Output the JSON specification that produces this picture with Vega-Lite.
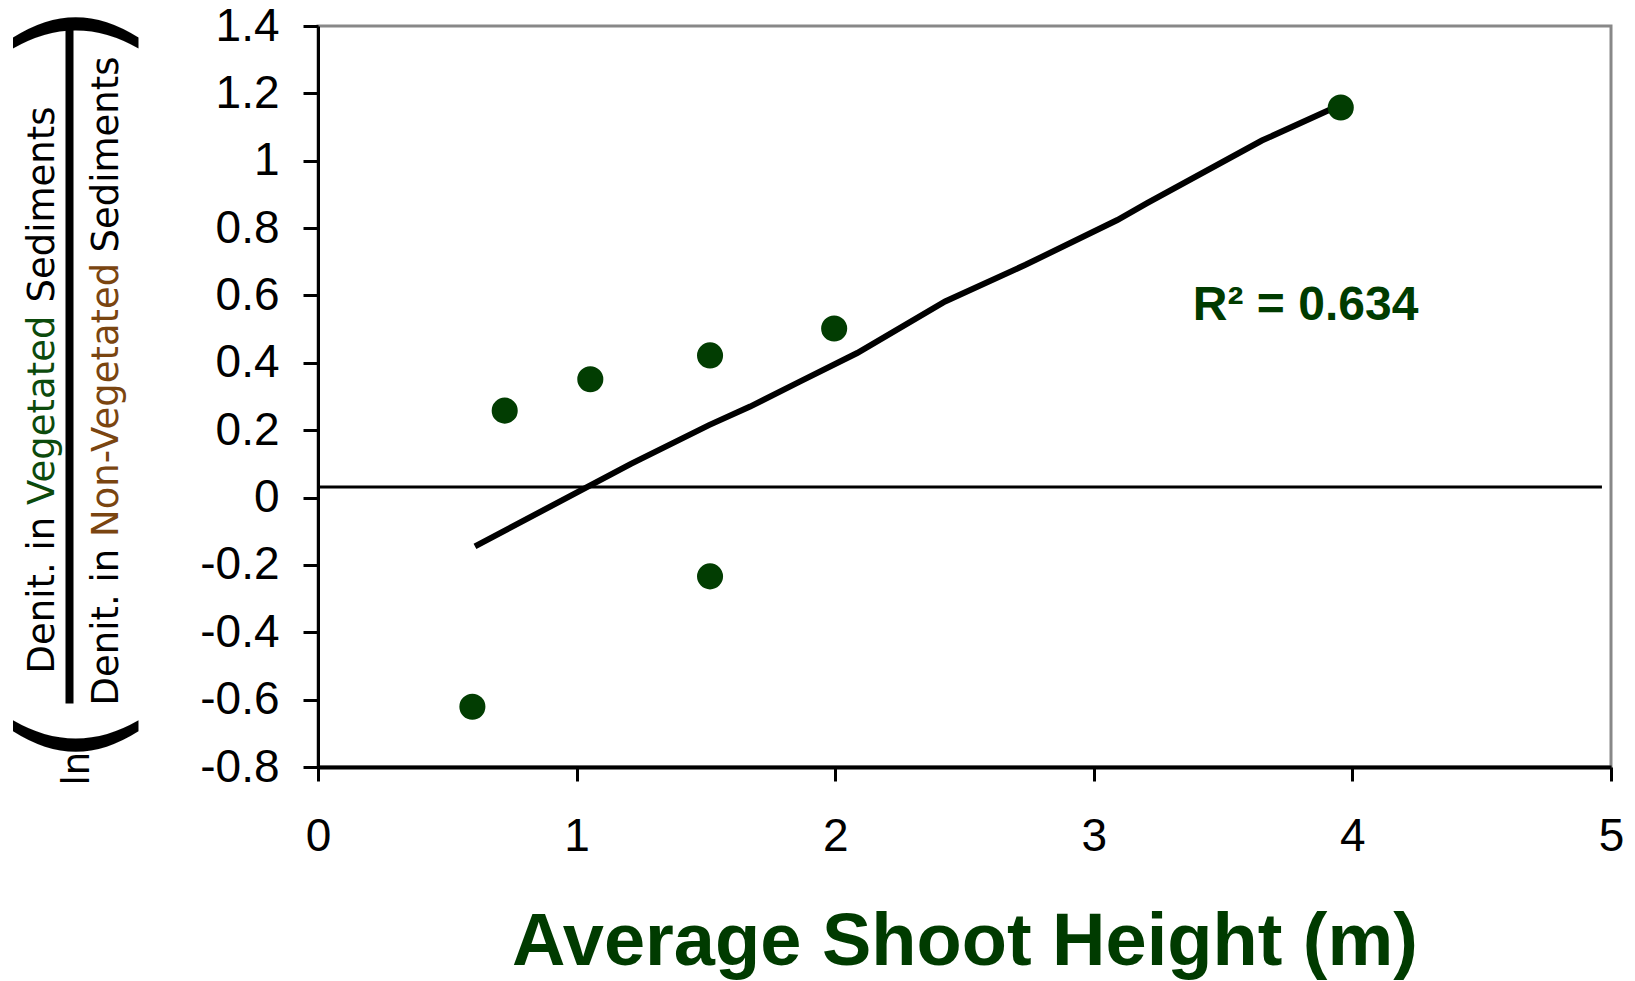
{
  "$schema": "https://vega.github.io/schema/vega-lite/v6.json",
  "width": 1293,
  "height": 741,
  "autosize": {"type": "none"},
  "padding": {"left": 318, "top": 26, "right": 24, "bottom": 214},
  "background": "white",
  "config": {
    "view": {"stroke": "#888888", "strokeWidth": 3},
    "axis": {
      "grid": false,
      "domainColor": "black",
      "domainWidth": 3,
      "tickColor": "black",
      "tickWidth": 3,
      "labelFont": "Liberation Sans",
      "labelFontSize": 46,
      "labelColor": "black",
      "labelFlush": false,
      "labelOverlap": false,
      "titleFont": "DejaVu Sans",
      "titleFontWeight": "normal",
      "titleFontSize": 37,
      "titleColor": "black"
    },
    "axisX": {
      "tickSize": 14,
      "labelPadding": 33,
      "domainWidth": 4,
      "titleFont": "Liberation Sans",
      "titleFontWeight": "bold",
      "titleFontSize": 74,
      "titleColor": "#003b00",
      "titleBaseline": "alphabetic",
      "titleY": 197
    }
  },
  "datasets": {
    "points": [
      {"x": 0.597, "y": -0.621},
      {"x": 0.722, "y": 0.258},
      {"x": 1.053, "y": 0.351},
      {"x": 1.516, "y": 0.422},
      {"x": 1.516, "y": -0.234},
      {"x": 1.996, "y": 0.502},
      {"x": 3.955, "y": 1.158}
    ],
    "trend": [
      {"x": 0.607, "y": -0.145},
      {"x": 1.21, "y": 0.1},
      {"x": 1.512, "y": 0.215},
      {"x": 1.671, "y": 0.27},
      {"x": 1.863, "y": 0.344},
      {"x": 2.085, "y": 0.429},
      {"x": 2.425, "y": 0.582},
      {"x": 2.736, "y": 0.691},
      {"x": 3.091, "y": 0.824},
      {"x": 3.206, "y": 0.874},
      {"x": 3.65, "y": 1.06},
      {"x": 3.955, "y": 1.166}
    ],
    "ref": [{"x": 0, "x2": 4.965, "y": 0.031}],
    "label": [{"x": 3.819, "y": 0.527, "text": "R² = 0.634"}]
  },
  "resolve": {"scale": {"y": "shared"}, "axis": {"y": "independent"}},
  "layer": [
    {
      "data": {"name": "ref"},
      "mark": {"type": "rule", "color": "black", "strokeWidth": 3},
      "encoding": {
        "x": {"field": "x", "type": "quantitative", "scale": {"domain": [0, 5], "nice": false}, "axis": {"title": "Average Shoot Height (m)", "values": [0, 1, 2, 3, 4, 5], "labelExpr": "'' + datum.value"}},
        "x2": {"field": "x2"},
        "y": {"field": "y", "type": "quantitative", "scale": {"domain": [-0.8, 1.4], "nice": false, "zero": false},
              "axis": {"orient": "left", "title": "Denit. in", "titleX": -265, "titleY": 647, "titleAngle": 270, "titleAlign": "left", "titleBaseline": "alphabetic", "labels": false, "ticks": false, "domain": false}}
      }
    },
    {
      "data": {"name": "trend"},
      "mark": {"type": "line", "color": "black", "strokeWidth": 6},
      "encoding": {
        "x": {"field": "x", "type": "quantitative", "scale": {"domain": [0, 5], "nice": false}, "axis": {"title": "Average Shoot Height (m)", "values": [0, 1, 2, 3, 4, 5], "labelExpr": "'' + datum.value"}},
        "y": {"field": "y", "type": "quantitative", "scale": {"domain": [-0.8, 1.4], "nice": false, "zero": false},
              "axis": {"orient": "left", "title": "Vegetated", "titleColor": "#0c4a0c", "titleX": -265, "titleY": 478.5, "titleAngle": 270, "titleAlign": "left", "titleBaseline": "alphabetic", "labels": false, "ticks": false, "domain": false}}
      }
    },
    {
      "data": {"name": "points"},
      "mark": {"type": "point", "shape": "circle", "filled": true, "color": "#023d02", "opacity": 1, "size": 680},
      "encoding": {
        "x": {"field": "x", "type": "quantitative", "scale": {"domain": [0, 5], "nice": false}, "axis": {"title": "Average Shoot Height (m)", "values": [0, 1, 2, 3, 4, 5], "labelExpr": "'' + datum.value"}},
        "y": {"field": "y", "type": "quantitative", "scale": {"domain": [-0.8, 1.4], "nice": false, "zero": false},
              "axis": {"orient": "left", "title": null, "values": [-0.8, -0.6, -0.4, -0.2, 0, 0.2, 0.4, 0.6, 0.8, 1, 1.2, 1.4], "labelExpr": "'' + datum.value", "tickSize": 15, "labelPadding": 24}}
      }
    },
    {
      "data": {"name": "label"},
      "mark": {"type": "text", "font": "Liberation Sans", "fontWeight": "bold", "fontSize": 48, "color": "#003b00", "align": "center", "baseline": "alphabetic"},
      "encoding": {
        "x": {"field": "x", "type": "quantitative", "scale": {"domain": [0, 5], "nice": false}, "axis": {"title": "Average Shoot Height (m)", "values": [0, 1, 2, 3, 4, 5], "labelExpr": "'' + datum.value"}},
        "y": {"field": "y", "type": "quantitative", "scale": {"domain": [-0.8, 1.4], "nice": false, "zero": false},
              "axis": {"orient": "left", "title": "Sediments", "titleX": -265, "titleY": 276, "titleAngle": 270, "titleAlign": "left", "titleBaseline": "alphabetic", "labels": false, "ticks": false, "domain": false}},
        "text": {"field": "text"}
      }
    },
    {
      "data": {"name": "points"},
      "mark": {"type": "point", "opacity": 0},
      "encoding": {
        "y": {"field": "y", "type": "quantitative", "scale": {"domain": [-0.8, 1.4], "nice": false, "zero": false},
              "axis": {"orient": "left", "title": "Denit. in", "titleX": -201, "titleY": 679, "titleAngle": 270, "titleAlign": "left", "titleBaseline": "alphabetic", "labels": false, "ticks": false, "domain": false}}
      }
    },
    {
      "data": {"name": "points"},
      "mark": {"type": "point", "opacity": 0},
      "encoding": {
        "y": {"field": "y", "type": "quantitative", "scale": {"domain": [-0.8, 1.4], "nice": false, "zero": false},
              "axis": {"orient": "left", "title": "Non-Vegetated", "titleColor": "#7a4510", "titleX": -201, "titleY": 510.5, "titleAngle": 270, "titleAlign": "left", "titleBaseline": "alphabetic", "labels": false, "ticks": false, "domain": false}}
      }
    },
    {
      "data": {"name": "points"},
      "mark": {"type": "point", "opacity": 0},
      "encoding": {
        "y": {"field": "y", "type": "quantitative", "scale": {"domain": [-0.8, 1.4], "nice": false, "zero": false},
              "axis": {"orient": "left", "title": "Sediments", "titleX": -201, "titleY": 226, "titleAngle": 270, "titleAlign": "left", "titleBaseline": "alphabetic", "labels": false, "ticks": false, "domain": false}}
      }
    },
    {
      "data": {"name": "points"},
      "mark": {"type": "point", "opacity": 0},
      "encoding": {
        "y": {"field": "y", "type": "quantitative", "scale": {"domain": [-0.8, 1.4], "nice": false, "zero": false},
              "axis": {"orient": "left", "title": "ln", "titleX": -230, "titleY": 759, "titleAngle": 270, "titleAlign": "left", "titleBaseline": "alphabetic", "labels": false, "ticks": false, "domain": false}}
      }
    },
    {
      "data": {"name": "points"},
      "mark": {"type": "point", "opacity": 0},
      "encoding": {
        "y": {"field": "y", "type": "quantitative", "scale": {"domain": [-0.8, 1.4], "nice": false, "zero": false},
              "axis": {"orient": "left", "title": "(", "titleFontSize": 140, "titleX": -199, "titleY": 710, "titleAngle": 270, "titleAlign": "center", "titleBaseline": "alphabetic", "labels": false, "ticks": false, "domain": false}}
      }
    },
    {
      "data": {"name": "points"},
      "mark": {"type": "point", "opacity": 0},
      "encoding": {
        "y": {"field": "y", "type": "quantitative", "scale": {"domain": [-0.8, 1.4], "nice": false, "zero": false},
              "axis": {"orient": "left", "title": ")", "titleFontSize": 140, "titleX": -199, "titleY": 6, "titleAngle": 270, "titleAlign": "center", "titleBaseline": "alphabetic", "labels": false, "ticks": false, "domain": false}}
      }
    },
    {
      "data": {"name": "points"},
      "mark": {"type": "point", "opacity": 0},
      "encoding": {
        "y": {"field": "y", "type": "quantitative", "scale": {"domain": [-0.8, 1.4], "nice": false, "zero": false},
              "axis": {"orient": "left", "title": null, "offset": 249, "labels": false, "ticks": false, "domain": true, "domainWidth": 8, "domainColor": "black", "domainDash": [0, 64, 680, 100]}}
      }
    }
  ]
}
